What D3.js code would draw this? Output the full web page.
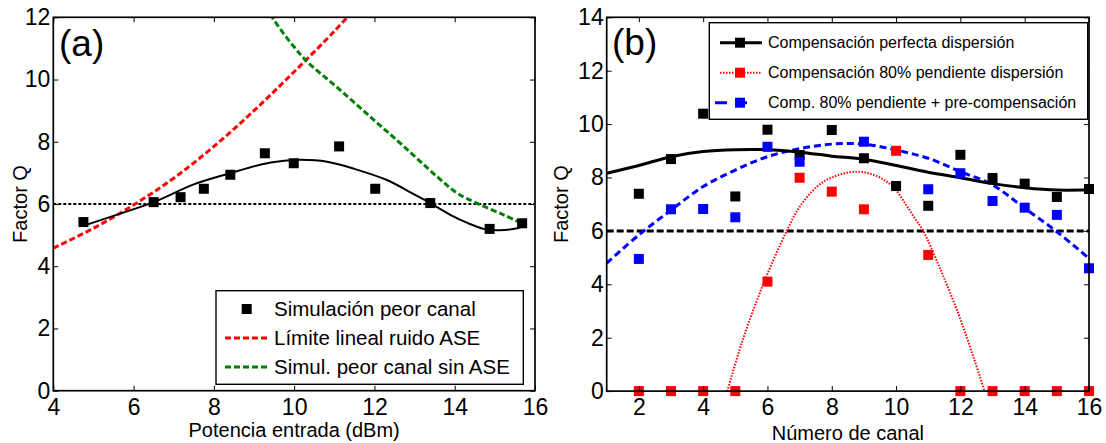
<!DOCTYPE html>
<html><head><meta charset="utf-8">
<script src="https://cdn.jsdelivr.net/npm/d3@7"></script>
<style>body{margin:0;background:#fff}svg{display:block;font-family:Arial,"Liberation Sans",sans-serif}</style>
</head><body><svg id="c" width="1106" height="443"></svg>
<script>
// ---------- Panel (a) data ----------
const aPower = [4.75, 6.5, 7.17, 7.75, 8.41, 9.27, 9.99, 11.12, 12.02, 13.39, 14.87, 15.68];
const aQ     = [5.42, 6.06, 6.22, 6.49, 6.94, 7.63, 7.31, 7.85, 6.49, 6.03, 5.2, 5.38];
const aFitP  = [4.8, 5.5, 6.5, 7.5, 8.41, 9.15, 9.7, 10.16, 10.82, 11.5, 12.31, 13.0, 13.39, 13.89, 14.3, 14.72, 15.1, 15.56, 15.68];
const aFitQ  = [5.32, 5.62, 6.06, 6.63, 6.99, 7.26, 7.38, 7.42, 7.36, 7.13, 6.77, 6.3, 6.03, 5.65, 5.4, 5.2, 5.16, 5.22, 5.28];
const aAseP  = [4, 5, 6, 7, 8, 9, 10, 11, 11.6];
const aAseQ  = [4.58, 5.22, 5.97, 6.83, 7.85, 9.0, 10.25, 11.55, 12.4];
const aSinP  = [9.3, 9.45, 9.99, 10.36, 11.07, 11.9, 12.73, 13.56, 14.06, 14.56, 15.22, 15.68];
const aSinQ  = [12.35, 12.0, 11.06, 10.53, 9.75, 8.8, 7.85, 6.88, 6.35, 6.02, 5.65, 5.38];
const aXTicks = [4, 6, 8, 10, 12, 14, 16];
const aYTicks = [0, 2, 4, 6, 8, 10, 12];
const aLegend = ["Simulación peor canal", "Límite lineal ruido ASE", "Simul. peor canal sin ASE"];

// ---------- Panel (b) data ----------
const channels = [2, 3, 4, 5, 6, 7, 8, 9, 10, 11, 12, 13, 14, 15, 16];
const bPerfect = [7.39, 8.69, 10.39, 7.29, 9.79, 8.84, 9.78, 8.72, 7.68, 6.94, 8.85, 7.98, 7.77, 7.27, 7.57];
const bSlope80 = [0, 0, 0, 0, 4.1, 7.99, 7.47, 6.81, 9.0, 5.1, 0, 0, 0, 0, 0];
const bPre     = [4.95, 6.81, 6.82, 6.51, 9.15, 8.59, null, 9.34, null, 7.56, 8.16, 7.12, 6.87, 6.6, 4.6];
const bFitCh      = [1, 2, 3, 4, 5, 6, 7, 8, 9, 10, 11, 12, 13, 14, 15, 16];
const bFitPerfect = [8.16, 8.45, 8.78, 8.97, 9.04, 9.04, 8.95, 8.8, 8.68, 8.45, 8.2, 7.99, 7.77, 7.62, 7.53, 7.54];
const bFitPre     = [4.79, 5.85, 6.78, 7.66, 8.28, 8.78, 9.08, 9.25, 9.25, 9.03, 8.72, 8.22, 7.72, 6.85, 5.97, 4.97];
const bFitSlopeCh = [4.75, 5.2, 5.88, 6.6, 7.0, 7.54, 8.0, 8.77, 9.4, 9.9, 10.3, 10.62, 10.83, 11.4, 11.97, 12.4, 12.75];
const bFitSlope   = [0, 1.8, 4.04, 6.0, 6.9, 7.66, 8.0, 8.22, 8.05, 7.66, 7.0, 6.4, 6.03, 4.5, 2.79, 1.3, 0];
const bXTicks = [2, 4, 6, 8, 10, 12, 14, 16];
const bYTicks = [0, 2, 4, 6, 8, 10, 12, 14];
const bLegend = ["Compensación perfecta dispersión", "Compensación 80% pendiente dispersión", "Comp. 80% pendiente + pre-compensación"];

const threshold = 6;

const svg = d3.select("#c");
const TICK_FS = 23, LAB_FS = 20;

function frame(g, x, y, xt, yt) {
  const [x0, x1] = x.range(), [y0, y1] = y.range();
  const bottom = g.append("g").attr("transform", `translate(0,${y0})`)
    .call(d3.axisBottom(x).tickValues(xt).tickSize(-5).tickPadding(5).tickFormat(d3.format("d")));
  const left = g.append("g").attr("transform", `translate(${x0},0)`)
    .call(d3.axisLeft(y).tickValues(yt).tickSize(-5).tickPadding(3).tickFormat(d3.format("d")));
  const top = g.append("g").attr("transform", `translate(0,${y1})`)
    .call(d3.axisTop(x).tickValues(xt).tickSize(-5).tickFormat(""));
  const right = g.append("g").attr("transform", `translate(${x1},0)`)
    .call(d3.axisRight(y).tickValues(yt).tickSize(-5).tickFormat(""));
  [bottom, left, top, right].forEach(a => {
    a.select(".domain").remove();
    a.selectAll(".tick line").attr("stroke", "#000").attr("stroke-width", 1);
    a.selectAll("text").attr("font-size", TICK_FS).attr("fill", "#000").attr("font-family", "Arial, 'Liberation Sans', sans-serif");
  });
  bottom.selectAll("text").attr("dy", "0.82em");
  g.append("rect").attr("x", x0).attr("y", y1).attr("width", x1 - x0).attr("height", y0 - y1)
    .attr("fill", "none").attr("stroke", "#000").attr("stroke-width", 1.7);
}

function clip(id, x, y) {
  const [x0, x1] = x.range(), [y0, y1] = y.range();
  svg.append("defs").append("clipPath").attr("id", id).append("rect")
    .attr("x", x0).attr("y", y1).attr("width", x1 - x0).attr("height", y0 - y1);
}

// ================= Panel (a) =================
{
  const x = d3.scaleLinear().domain([4, 16]).range([53.3, 535]);
  const y = d3.scaleLinear().domain([0, 12]).range([390.7, 17.3]);
  clip("ca", x, y);
  const g = svg.append("g");
  const pl = g.append("g").attr("clip-path", "url(#ca)");
  const line = d3.line().x(d => x(d[0])).y(d => y(d[1])).curve(d3.curveCatmullRom);

  pl.append("path").datum([[4, threshold], [16, threshold]])
    .attr("d", d3.line().x(d => x(d[0])).y(d => y(d[1])))
    .attr("stroke", "#000").attr("stroke-width", 1.8).attr("stroke-dasharray", "3,2").attr("fill", "none");
  pl.append("path").datum(d3.zip(aAseP, aAseQ)).attr("d", line)
    .attr("stroke", "#ff0000").attr("stroke-width", 3).attr("stroke-dasharray", "6,3").attr("fill", "none");
  pl.append("path").datum(d3.zip(aSinP, aSinQ)).attr("d", line)
    .attr("stroke", "#008000").attr("stroke-width", 3).attr("stroke-dasharray", "6,3").attr("fill", "none");
  pl.append("path").datum(d3.zip(aFitP, aFitQ)).attr("d", line)
    .attr("stroke", "#000").attr("stroke-width", 2).attr("fill", "none");
  const s = 10;
  pl.selectAll("rect.m").data(d3.zip(aPower, aQ)).join("rect").attr("class", "m")
    .attr("x", d => x(d[0]) - s / 2).attr("y", d => y(d[1]) - s / 2).attr("width", s).attr("height", s).attr("fill", "#000");

  frame(g, x, y, aXTicks, aYTicks);

  g.append("text").attr("x", 59).attr("y", 56).attr("font-size", 37).text("(a)");
  g.append("text").attr("x", (53.3 + 535) / 2).attr("y", 437).attr("text-anchor", "middle").attr("font-size", LAB_FS).text("Potencia entrada (dBm)");
  g.append("text").attr("transform", `translate(27,${(17.3 + 390.7) / 2}) rotate(-90)`).attr("text-anchor", "middle").attr("font-size", LAB_FS).text("Factor Q");

  // legend
  const lg = g.append("g");
  lg.append("rect").attr("x", 216).attr("y", 290.7).attr("width", 523.3 - 216).attr("height", 384.3 - 290.7)
    .attr("fill", "#fff").attr("stroke", "#000").attr("stroke-width", 1.4);
  const rows = [309, 338, 367];
  lg.append("rect").attr("x", 246.7 - 5).attr("y", rows[0] - 5).attr("width", 10).attr("height", 10).attr("fill", "#000");
  lg.append("line").attr("x1", 225).attr("x2", 269).attr("y1", rows[1]).attr("y2", rows[1])
    .attr("stroke", "#ff0000").attr("stroke-width", 3).attr("stroke-dasharray", "6,3");
  lg.append("line").attr("x1", 225).attr("x2", 269).attr("y1", rows[2]).attr("y2", rows[2])
    .attr("stroke", "#008000").attr("stroke-width", 3).attr("stroke-dasharray", "6,3");
  lg.selectAll("text").data(aLegend).join("text").attr("x", 274).attr("y", (d, i) => rows[i]).attr("dy", "0.35em")
    .attr("font-size", 20.5).text(d => d);
}

// ================= Panel (b) =================
{
  const x = d3.scaleLinear().domain([1, 16]).range([606.7, 1089]);
  const y = d3.scaleLinear().domain([0, 14]).range([391.1, 17.3]);
  clip("cb", x, y);
  const g = svg.append("g");
  const pl = g.append("g").attr("clip-path", "url(#cb)");
  const line = d3.line().x(d => x(d[0])).y(d => y(d[1])).curve(d3.curveCatmullRom);

  pl.append("path").datum([[1, threshold], [16, threshold]])
    .attr("d", d3.line().x(d => x(d[0])).y(d => y(d[1])))
    .attr("stroke", "#000").attr("stroke-width", 3).attr("stroke-dasharray", "7,3").attr("fill", "none");
  pl.append("path").datum(d3.zip(bFitSlopeCh, bFitSlope)).attr("d", line)
    .attr("stroke", "#ff0000").attr("stroke-width", 2).attr("stroke-dasharray", "1.5,1.5").attr("fill", "none");
  pl.append("path").datum(d3.zip(bFitCh, bFitPre)).attr("d", line)
    .attr("stroke", "#0000ff").attr("stroke-width", 3).attr("stroke-dasharray", "7,4").attr("fill", "none");
  pl.append("path").datum(d3.zip(bFitCh, bFitPerfect)).attr("d", line)
    .attr("stroke", "#000").attr("stroke-width", 3).attr("fill", "none");

  const s = 10;
  const sets = [[bPerfect, "#000"], [bPre, "#0000ff"], [bSlope80, "#ff0000"]];
  sets.forEach(([vals, col]) => {
    const pts = d3.zip(channels, vals).filter(d => d[1] !== null);
    g.append("g").selectAll("rect").data(pts).join("rect")
      .attr("x", d => x(d[0]) - s / 2).attr("y", d => y(d[1]) - s / 2).attr("width", s).attr("height", s).attr("fill", col);
  });

  frame(g, x, y, bXTicks, bYTicks);

  g.append("text").attr("x", 612).attr("y", 55).attr("font-size", 37).text("(b)");
  g.append("text").attr("x", (606.7 + 1089) / 2).attr("y", 440).attr("text-anchor", "middle").attr("font-size", LAB_FS).text("Número de canal");
  g.append("text").attr("transform", `translate(568,${(17.3 + 391.1) / 2}) rotate(-90)`).attr("text-anchor", "middle").attr("font-size", LAB_FS).text("Factor Q");

  const lg = g.append("g");
  lg.append("rect").attr("x", 709.3).attr("y", 22.7).attr("width", 1087.7 - 709.3).attr("height", 119.3 - 22.7)
    .attr("fill", "#fff").attr("stroke", "#000").attr("stroke-width", 1.4);
  const rows = [42.7, 72.7, 102.7];
  const styles = [["#000", 3, null], ["#ff0000", 2, "1.5,1.5"], ["#0000ff", 3, "12,8"]];
  styles.forEach(([col, w, dash], i) => {
    const l = lg.append("line").attr("x1", i === 2 ? 715 : 720).attr("x2", i === 2 ? 752 : 762)
      .attr("y1", rows[i]).attr("y2", rows[i]).attr("stroke", col).attr("stroke-width", w);
    if (dash) l.attr("stroke-dasharray", dash);
    lg.append("rect").attr("x", 740 - 5).attr("y", rows[i] - 5).attr("width", 10).attr("height", 10).attr("fill", col);
  });
  lg.selectAll("text").data(bLegend).join("text").attr("x", 768).attr("y", (d, i) => rows[i]).attr("dy", "0.35em")
    .attr("font-size", 16).text(d => d);
}
</script></body></html>
